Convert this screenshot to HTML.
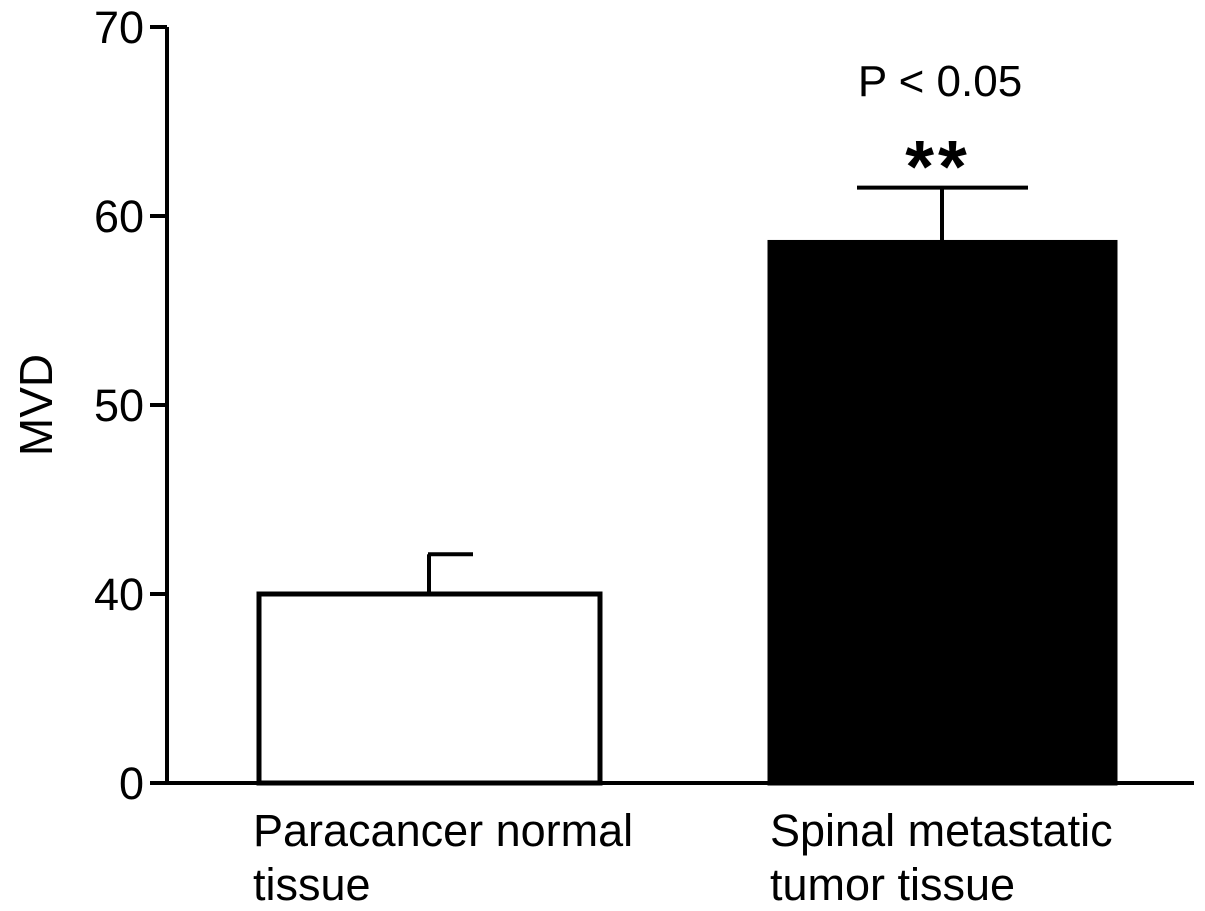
<!DOCTYPE html>
<html><head><meta charset="utf-8"><style>
body{margin:0;background:#fff;}
svg{display:block;font-family:"Liberation Sans",Arial,sans-serif;}
</style></head><body>
<svg id="chart" width="1205" height="911" viewBox="0 0 1205 911" xmlns="http://www.w3.org/2000/svg">
<g id="axes"></g>
<g id="bars"></g>
<text transform="translate(52,405) rotate(-90)" text-anchor="middle" font-size="46">MVD</text>
<text x="940" y="96" text-anchor="middle" font-size="44">P &lt; 0.05</text>
<text x="938" y="192" text-anchor="middle" font-size="74" font-weight="bold" letter-spacing="4">**</text>
</svg>
<script>
const categories=[["Paracancer normal","tissue"],["Spinal metastatic","tumor tissue"]];
const means=[40,58.6];
const errors=[2.1,2.9];
const fills=["#fff","#000"];
const yTicks=[0,40,50,60,70];
const NS="http://www.w3.org/2000/svg";
function y(v){return v<=40?783-v/40*189:594-(v-40)*18.9;}
const barX=[[259,600],[770,1115]];
const labelX=[253,770];
function mk(tag,attrs,parent){const e=document.createElementNS(NS,tag);for(const k in attrs)e.setAttribute(k,attrs[k]);parent.appendChild(e);return e;}
const ax=document.getElementById('axes'),bg=document.getElementById('bars');
let l=mk('line',{x1:167,y1:y(70),x2:167,y2:785,stroke:'#000','stroke-width':4},ax);


l=mk('line',{x1:150,y1:783,x2:1194,y2:783,stroke:'#000','stroke-width':4},ax);


yTicks.forEach(t=>{
 const tk=mk('line',{x1:150,y1:y(t),x2:167,y2:y(t),stroke:'#000','stroke-width':4},ax);
 
 
 const tx=mk('text',{x:144,y:y(t)+16,'text-anchor':'end','font-size':45},ax);
 tx.textContent=t;
 
 
});
means.forEach((m,i)=>{
 const [x0,x1]=barX[i];const cx=i==0?429:942;
 const top=y(m),et=y(m+errors[i]);
 const s=mk('line',{x1:cx,y1:top,x2:cx,y2:et,stroke:'#000','stroke-width':4},bg);
 
 
 const c=mk('line',{x1:i==0?428:857,y1:et,x2:i==0?473:1028,y2:et,stroke:'#000','stroke-width':4},bg);
 
 
 const r=mk('rect',{x:x0,y:top,width:x1-x0,height:783-top,fill:fills[i],stroke:'#000','stroke-width':5},bg);
 
 
 categories[i].forEach((ln,j)=>{
  const tx=mk('text',{x:labelX[i],y:846+j*54,'text-anchor':'start','font-size':45},bg);
  tx.textContent=ln;
  
  
 });
});
</script>
</body></html>
